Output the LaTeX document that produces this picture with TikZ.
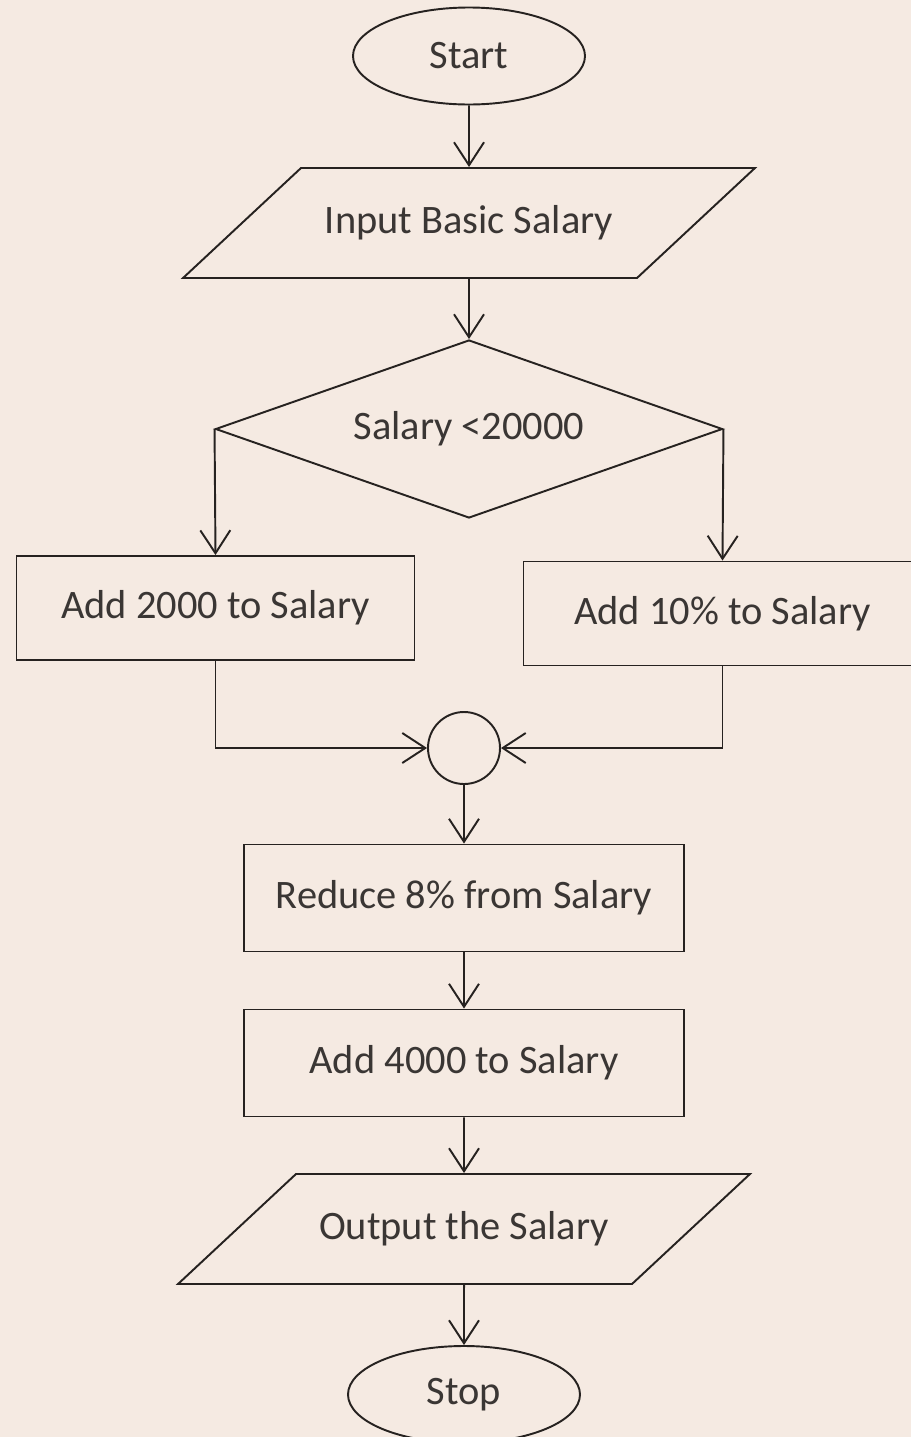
\documentclass[tikz,border=0pt]{standalone}
\usepackage{fontspec}
\setmainfont{Carlito}
\usetikzlibrary{shapes.geometric, arrows.meta}
\definecolor{paper}{RGB}{245,234,226}
\definecolor{ink}{RGB}{38,34,32}
\definecolor{inktext}{RGB}{58,54,52}
\tikzstyle{arrow} = [line width=1.1pt, draw=ink, -{Straight Barb[length=4.6mm, width=6mm]}]
\tikzstyle{terminal} = [ellipse, draw=ink, line width=1.1pt, minimum width=4.64cm, minimum height=1.94cm, text centered]
\tikzstyle{io} = [trapezium, trapezium left angle=43, trapezium right angle=137, draw=ink, line width=1.1pt, text width=6.72cm, align=flush center, inner xsep=0pt, text height=0.6cm, text depth=0.2cm, inner ysep=0.7cm]
\tikzstyle{decision} = [diamond, aspect=2.85, draw=ink, line width=1.1pt, minimum width=10.14cm, minimum height=3.56cm, inner sep=0pt, text centered]
\tikzstyle{process} = [rectangle, draw=ink, line width=1.1pt, minimum width=7.96cm, minimum height=2.08cm, text centered]
\tikzstyle{bigprocess} = [process, minimum width=8.8cm, minimum height=2.14cm]
\tikzstyle{connector} = [circle, draw=ink, line width=1.1pt, minimum size=1.44cm, inner sep=0pt]

\begin{document}
\begin{tikzpicture}[node distance=3cm, text=inktext, font=\fontsize{23}{27}\selectfont]
\fill [paper] (0,0) rectangle (18.22,-28.74);
\useasboundingbox (0,0) rectangle (18.22,-28.74);
\node (start) [terminal] at (9.38,-1.12) {Start};
\node (in) [io, below of = start, yshift=-0.34cm] {Input Basic Salary};
\node (dec) [decision, below of = in, yshift=-1.12cm] {Salary <20000};
\node (low) [process, below of = dec, yshift=-0.58cm, xshift=-5.07cm] {Add 2000 to Salary};
\node (high) [process, below of = dec, yshift=-0.69cm, xshift=5.07cm] {Add 10\% to Salary};
\node (join) [connector, below of = dec, yshift=-3.38cm, xshift=-0.1cm] {};
\node (reduce) [bigprocess, below of = join] {Reduce 8\% from Salary};
\node (bonus) [bigprocess, below of = reduce, yshift=-0.3cm] {Add 4000 to Salary};
\node (out) [io, below of = bonus, yshift=-0.32cm] {Output the Salary};
\node (stop) [terminal, below of = out, yshift=-0.31cm] {Stop};
\draw [arrow] (start) -- (in);
\draw [arrow] (in) -- (dec);
\draw [arrow] (dec.west) -- (low.north);
\draw [arrow] (dec.east) -- (high.north);
\draw [arrow] (low.south) |- (join.west);
\draw [arrow] (high.south) |- (join.east);
\draw [arrow] (join) -- (reduce);
\draw [arrow] (reduce) -- (bonus);
\draw [arrow] (bonus) -- (out);
\draw [arrow] (out) -- (stop);
\end{tikzpicture}
\end{document}
